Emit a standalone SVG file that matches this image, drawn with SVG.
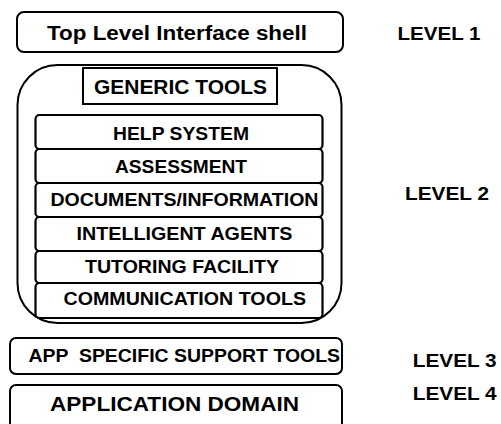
<svg xmlns="http://www.w3.org/2000/svg" width="501" height="424" viewBox="0 0 501 424">
<style>
.box{fill:#fff;stroke:#000;stroke-width:2}
.inner{fill:#fff;stroke:#000;stroke-width:2.2}
.t{font-family:"Liberation Sans",Arial,sans-serif;font-weight:bold;fill:#000}
.big{font-size:20px}
.mid{font-size:18.5px}
.lvl{font-size:18.5px}
</style>
<rect width="501" height="424" fill="#fff"/>
<g id="top-shell">
<rect class="box" x="17" y="12" width="326" height="40" rx="7"/>
<text class="t big" x="47" y="39.5" textLength="260" lengthAdjust="spacingAndGlyphs">Top Level Interface shell</text>
</g>
<g id="generic-tools-container">
<rect class="box" x="17.5" y="65" width="324" height="258" rx="40"/>
</g>
<g id="generic-tools">
<rect class="box" x="83" y="68" width="194" height="36"/>
<text class="t big" x="94" y="94" textLength="173" lengthAdjust="spacingAndGlyphs">GENERIC TOOLS</text>
</g>
<g id="help-system">
<rect class="inner" x="35.5" y="115" width="287" height="34" rx="4"/>
<text class="t mid" x="113" y="140" textLength="136" lengthAdjust="spacingAndGlyphs">HELP SYSTEM</text>
</g>
<g id="assessment">
<rect class="inner" x="35.5" y="149" width="287" height="34" rx="4"/>
<text class="t mid" x="115" y="173" textLength="132" lengthAdjust="spacingAndGlyphs">ASSESSMENT</text>
</g>
<g id="documents">
<rect class="inner" x="35.5" y="183" width="287" height="34" rx="4"/>
<text class="t mid" x="50.5" y="206" textLength="268" lengthAdjust="spacingAndGlyphs">DOCUMENTS/INFORMATION</text>
</g>
<g id="intelligent-agents">
<rect class="inner" x="35.5" y="217" width="287" height="34" rx="4"/>
<text class="t mid" x="76.5" y="239.5" textLength="216" lengthAdjust="spacingAndGlyphs">INTELLIGENT AGENTS</text>
</g>
<g id="tutoring-facility">
<rect class="inner" x="35.5" y="251" width="287" height="32" rx="4"/>
<text class="t mid" x="85" y="273" textLength="194" lengthAdjust="spacingAndGlyphs">TUTORING FACILITY</text>
</g>
<g id="communication-tools">
<rect class="inner" x="35.5" y="283" width="287" height="35" rx="4"/>
<text class="t mid" x="63.5" y="305" textLength="242.5" lengthAdjust="spacingAndGlyphs">COMMUNICATION TOOLS</text>
</g>
<g id="app-specific">
<rect class="box" x="10" y="338" width="332" height="36" rx="6"/>
<text class="t mid" x="28.5" y="362" textLength="311.5" lengthAdjust="spacingAndGlyphs" xml:space="preserve">APP  SPECIFIC SUPPORT TOOLS</text>
</g>
<g id="application-domain">
<rect class="box" x="10" y="385" width="332" height="50" rx="6"/>
<text class="t big" x="50" y="411" textLength="249" lengthAdjust="spacingAndGlyphs">APPLICATION DOMAIN</text>
</g>
<g id="levels">
<text class="t lvl" x="397.5" y="40" textLength="83" lengthAdjust="spacingAndGlyphs">LEVEL 1</text>
<text class="t lvl" x="405" y="200" textLength="84" lengthAdjust="spacingAndGlyphs">LEVEL 2</text>
<text class="t lvl" x="412.7" y="366.7" textLength="84" lengthAdjust="spacingAndGlyphs">LEVEL 3</text>
<text class="t lvl" x="412.7" y="400" textLength="84" lengthAdjust="spacingAndGlyphs">LEVEL 4</text>
</g>
<g id="connectors"></g>
</svg>
